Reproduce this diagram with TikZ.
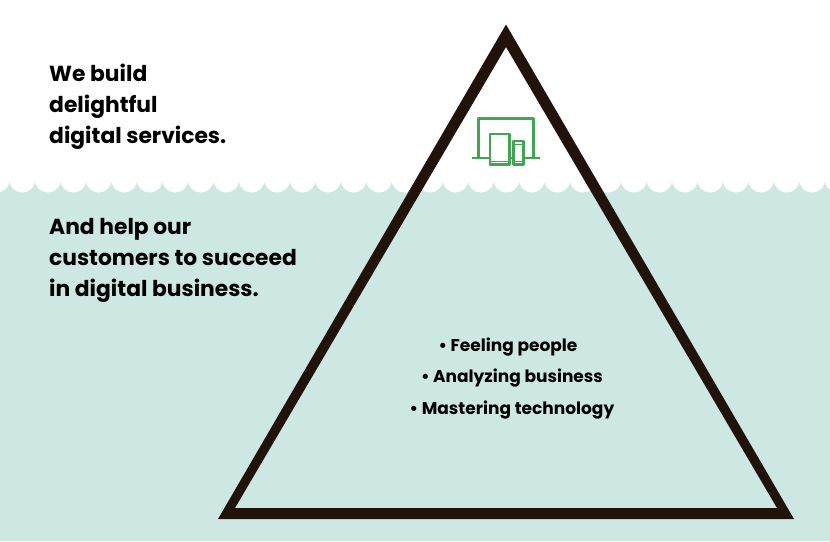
\documentclass[tikz,border=0pt]{standalone}
\usepackage{fontspec}
\setmainfont{Poppins}[BoldFont={Poppins SemiBold}]
\newfontfamily\heavy{Poppins Bold}
\definecolor{sea}{HTML}{CDE8E2}
\definecolor{tri}{HTML}{21120A}
\definecolor{dev}{HTML}{3FA652}
\begin{document}
\begin{tikzpicture}[x=1pt,y=-1pt,
  headtext/.style={anchor=base west,inner sep=0pt,align=left,font=\heavy\fontsize{21.8}{30.7}\selectfont,text=black},
  bullettext/.style={anchor=base,inner sep=0pt,font=\heavy\fontsize{17}{23}\selectfont,text=black},
  devline/.style={draw=dev,line width=2.2pt,line join=round}]
\useasboundingbox (0,0) rectangle (830,541);
\fill[white] (0,0) rectangle (830,541);
\fill[sea] (0,182) rectangle (830,541);
\foreach \i in {-1,...,33} \fill[white] ({22.3+25.48*\i},179.5) circle (13);
\fill[tri,even odd rule] (506,24.5) -- (794,519) -- (218,519) -- cycle
  (506,47) -- (777,508) -- (235,508) -- cycle;
% device icon
\draw[devline] (478.5,157) -- (478.5,118.5) -- (533.5,118.5) -- (533.5,157);
\draw[devline] (471.5,158) -- (540,158);
\draw[devline,fill=white] (490,134) rectangle (509.5,164.5);
\draw[dev,line width=1pt] (490,161.5) -- (509.5,161.5);
\draw[devline,fill=white] (513.5,141) rectangle (523.5,164.5);
\draw[dev,line width=1pt] (513.5,161) -- (523.5,161) (513.5,144) -- (523.5,144);
% text
\node[headtext] (t1) at (49,143) {We build\\delightful\\digital services.};
\node[headtext] (t2) at (49,296) {And help our\\customers to succeed\\in digital business.};
\node[bullettext] (b1) at (508,351.5) {• Feeling people};
\node[bullettext] (b2) at (512,382.5) {• Analyzing business};
\node[bullettext] (b3) at (512,414) {• Mastering technology};
\end{tikzpicture}
\end{document}
